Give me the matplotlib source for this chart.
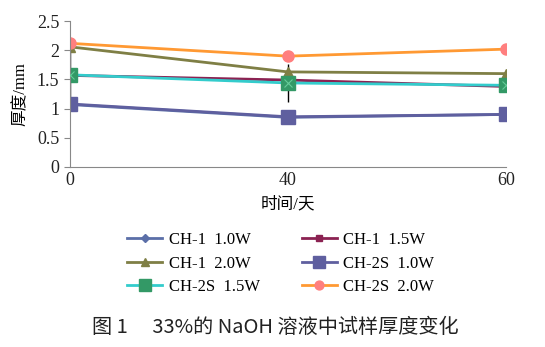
import matplotlib.pyplot as plt

plt.rcParams['font.family'] = ['Liberation Serif', 'Noto Sans CJK SC', 'DejaVu Sans']

days = ["0", "40", "60"]
ch1_10 = [1.07, 0.85, 0.90]
ch1_15 = [1.57, 1.49, 1.38]
ch1_20 = [2.06, 1.63, 1.60]
ch2s_10 = [1.08, 0.86, 0.90]
ch2s_15 = [1.58, 1.44, 1.40]
ch2s_20 = [2.12, 1.90, 2.02]
err_15 = [0.5, 0.32, 0.0]

x = range(len(days))

fig = plt.figure(figsize=(5.45, 3.47), dpi=100)
ax = fig.add_axes([0.128, 0.519, 0.800, 0.420])

ax.errorbar(x, ch2s_15, yerr=err_15, fmt="none", ecolor="black", elinewidth=1.0, capsize=0, zorder=1)

# (label, values, line colour, marker, marker face, marker size)
series = [
    ("CH-1  1.0W", ch1_10, "#5b6fa8", "D", "#5b6fa8", 5),
    ("CH-1  1.5W", ch1_15, "#8b2252", "s", "#8b2252", 6),
    ("CH-2S  1.0W", ch2s_10, "#5f5f9f", "s", "#5f5f9f", 10),
    ("CH-1  2.0W", ch1_20, "#7f7f45", "^", "#7f7f45", 7),
    ("CH-2S  1.5W", ch2s_15, "#33cccc", "s", "#339966", 10),
    ("CH-2S  2.0W", ch2s_20, "#ff9933", "o", "#ff7f7f", 8),
]
handles = {}
for label, vals, lc, mk, mf, ms in series:
    ln, = ax.plot(x, vals, color=lc, lw=2.0, marker=mk, markerfacecolor=mf,
                  markeredgecolor=mf, markersize=ms, zorder=2)
    if label == "CH-2S  1.5W":
        ax.plot(x, vals, ls="none", marker="x", color="#66cc99", markersize=6, mew=0.8, zorder=3)
    handles[label] = ln

ax.set_xlim(0, 2)
ax.set_ylim(0, 2.5)
ax.set_xticks(list(x))
ax.set_xticklabels(days)
ax.set_yticks([0, 0.5, 1, 1.5, 2, 2.5])
ax.set_yticklabels(["0", "0.5", "1", "1.5", "2", "2.5"])
for s in ["top", "right"]:
    ax.spines[s].set_visible(False)
for s in ["left", "bottom"]:
    ax.spines[s].set_color("#888888")
ax.tick_params(axis="both", labelsize=13, colors="#888888", labelcolor="#222222", length=4)
ax.tick_params(axis="x", length=0, pad=4)

ax.set_xlabel("时间/天", fontsize=12, labelpad=5)
ax.set_ylabel("厚度/mm", fontsize=12, labelpad=6)

# legend fills column by column
order = ["CH-1  1.0W", "CH-1  2.0W", "CH-2S  1.5W", "CH-1  1.5W", "CH-2S  1.0W", "CH-2S  2.0W"]
legend_handles = []
for k in order:
    h = handles[k]
    legend_handles.append(h)
leg = fig.legend(legend_handles, order, loc="center", bbox_to_anchor=(0.515, 0.24),
                 ncol=2, frameon=False, fontsize=12, handlelength=2.1, columnspacing=2.5,
                 labelspacing=0.45, handletextpad=0.4)
for lh in leg.legend_handles:
    lh.set_markersize(lh.get_markersize() * 0.8)

fig.text(0.505, 0.057, "图 1　 33%的 NaOH 溶液中试样厚度变化", ha="center", va="center",
         fontsize=14.5, weight="medium", family=["Noto Sans CJK SC", "DejaVu Sans"], color="#222222")

fig.savefig("out.png", dpi=100)
